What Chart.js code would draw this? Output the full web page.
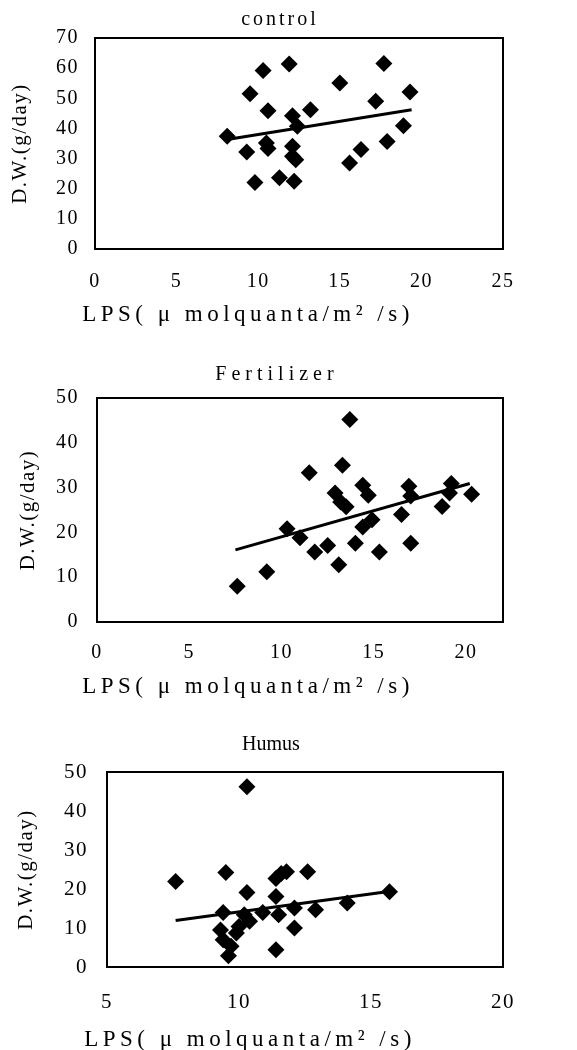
<!DOCTYPE html>
<html>
<head>
<meta charset="utf-8">
<script src="https://cdn.jsdelivr.net/npm/chart.js@4.4.1/dist/chart.umd.min.js"></script>
<style>
  html, body { margin: 0; padding: 0; background: #fff; }
  body { position: relative; width: 577px; height: 1050px; overflow: hidden; }
  .panel { position: absolute; left: 0; width: 577px; }
</style>
</head>
<body>
<div class="panel" style="top:0;height:330px"><canvas id="chart-control"></canvas></div>
<div class="panel" style="top:350px;height:350px"><canvas id="chart-fert"></canvas></div>
<div class="panel" style="top:730px;height:320px"><canvas id="chart-humus"></canvas></div>
<script>
// control
const controlX = [8.1, 9.3, 9.5, 9.8, 10.3, 10.5, 10.6, 10.6, 11.3, 11.9, 12.1, 12.1, 12.1, 12.3, 12.2, 12.4, 13.2, 15.0, 15.6, 16.3, 17.2, 17.7, 17.9, 18.9, 19.3];
const controlY = [37.4, 32.2, 51.5, 22.1, 59.2, 35.2, 33.3, 45.9, 23.6, 61.4, 44.2, 34.1, 30.8, 29.6, 22.5, 40.7, 46.2, 55.1, 28.5, 33.0, 49.0, 61.5, 35.7, 40.9, 52.1];
const controlTrendX = [8.1, 19.4];
const controlTrendY = [36.3, 46.2];
const controlXRange = [0, 25];
const controlXTicks = [0, 5, 10, 15, 20, 25];
const controlYTicks = [0, 10, 20, 30, 40, 50, 60, 70];

// Fertilizer
const fertX = [7.6, 9.2, 10.3, 11.0, 11.5, 11.8, 12.5, 12.9, 13.1, 13.3, 13.2, 13.5, 13.7, 14.0, 14.4, 14.4, 14.7, 14.9, 15.3, 16.5, 16.9, 17.0, 17.0, 18.7, 19.1, 19.2, 20.3];
const fertY = [8.0, 11.2, 20.8, 18.8, 33.3, 15.6, 17.1, 28.8, 12.8, 35.0, 26.8, 25.7, 45.2, 17.6, 21.2, 30.5, 28.3, 22.8, 15.6, 24.0, 30.3, 28.1, 17.6, 25.8, 28.8, 30.9, 28.5];
const fertTrendX = [7.5, 20.2];
const fertTrendY = [16.1, 30.9];
const fertXRange = [0, 22];
const fertXTicks = [0, 5, 10, 15, 20];
const fertYTicks = [0, 10, 20, 30, 40, 50];

// Humus
const humusX = [7.6, 9.5, 9.4, 9.3, 9.4, 9.6, 9.7, 9.9, 10.0, 10.2, 10.3, 10.3, 10.4, 10.9, 11.4, 11.4, 11.6, 11.8, 11.5, 11.4, 12.1, 12.1, 12.6, 12.9, 14.1, 15.7];
const humusY = [21.9, 24.2, 14.0, 9.5, 7.0, 2.9, 5.3, 8.7, 10.4, 13.4, 46.2, 19.1, 11.7, 14.0, 18.1, 22.7, 24.0, 24.4, 13.4, 4.4, 15.1, 10.0, 24.4, 14.7, 16.4, 19.3];
const humusTrendX = [7.6, 15.6];
const humusTrendY = [11.9, 19.3];
const humusXRange = [5, 20];
const humusXTicks = [5, 10, 15, 20];
const humusYTicks = [0, 10, 20, 30, 40, 50];

const SERIF = '"Liberation Serif", "DejaVu Serif", serif';
const X_TITLE = 'LPS( \u03bc molquanta/m\u00b2 /s)';
const Y_TITLE = 'D.W.(g/day)';

function toPoints(xs, ys) {
  return xs.map((x, i) => ({ x, y: ys[i] }));
}

// frame around the plot area + titles with the wide letter spacing of the scan
const panelText = {
  id: 'panelText',
  beforeDraw(chart) {
    chart.ctx.letterSpacing = '1.5px';
  },
  beforeDatasetsDraw(chart) {
    const { ctx, chartArea: a } = chart;
    ctx.save();
    ctx.strokeStyle = '#000';
    ctx.lineWidth = 2;
    ctx.strokeRect(a.left, a.top, a.right - a.left, a.bottom - a.top);
    ctx.restore();
  },
  afterDraw(chart, args, o) {
    const { ctx } = chart;
    ctx.save();
    ctx.fillStyle = '#000';
    ctx.textAlign = 'center';
    ctx.textBaseline = 'middle';
    ctx.letterSpacing = o.titleSpacing;
    ctx.font = o.titleFont;
    ctx.fillText(o.title, o.titleX, o.titleY);
    ctx.letterSpacing = o.axisSpacing;
    ctx.font = o.axisFont;
    ctx.fillText(X_TITLE, o.axisX, o.axisY);
    ctx.restore();
    ctx.letterSpacing = '0px';
  }
};

function makePanel(id, cfg) {
  const tickFont = { family: SERIF, size: cfg.tickSize };
  return new Chart(document.getElementById(id), {
    type: 'scatter',
    data: {
      datasets: [
        {
          data: toPoints(cfg.xs, cfg.ys),
          pointStyle: 'rectRot',
          pointRadius: 8.5,
          pointBackgroundColor: '#000',
          pointBorderColor: '#000',
          pointBorderWidth: 0,
        },
        {
          data: toPoints(cfg.trendX, cfg.trendY),
          showLine: true,
          borderColor: '#000',
          borderWidth: 3,
          pointRadius: 0,
        },
      ],
    },
    options: {
      responsive: true,
      maintainAspectRatio: false,
      animation: false,
      layout: { padding: { top: cfg.top, right: 74, left: 0, bottom: 0 } },
      plugins: {
        legend: { display: false },
        tooltip: { enabled: false },
        panelText: cfg.text,
      },
      scales: {
        x: {
          type: 'linear',
          min: cfg.xRange[0],
          max: cfg.xRange[1],
          afterBuildTicks: (s) => { s.ticks = cfg.xTicks.map((v) => ({ value: v })); },
          afterFit: (s) => { s.height = cfg.xHeight; },
          grid: { display: false, drawTicks: false },
          border: { display: false },
          ticks: { color: '#000', font: tickFont, padding: cfg.xPad, maxRotation: 0 },
        },
        y: {
          type: 'linear',
          min: cfg.yTicks[0],
          max: cfg.yTicks[cfg.yTicks.length - 1],
          afterBuildTicks: (s) => { s.ticks = cfg.yTicks.map((v) => ({ value: v })); },
          afterFit: (s) => { s.width = cfg.yWidth; },
          grid: { display: false, drawTicks: false },
          border: { display: false },
          ticks: { color: '#000', font: tickFont, padding: cfg.yPad },
          title: {
            display: true,
            text: Y_TITLE,
            color: '#000',
            font: { family: SERIF, size: 21 },
            padding: { top: cfg.yTitlePad, bottom: 0 },
          },
        },
      },
    },
    plugins: [panelText],
  });
}

makePanel('chart-control', {
  xs: controlX, ys: controlY, trendX: controlTrendX, trendY: controlTrendY,
  xRange: controlXRange, xTicks: controlXTicks, yTicks: controlYTicks,
  top: 38, yWidth: 95, xHeight: 81, yPad: 16, xPad: 21, yTitlePad: 8, tickSize: 20,
  text: {
    title: 'control', titleX: 280, titleY: 20, titleFont: '20px ' + SERIF, titleSpacing: '3px',
    axisX: 248, axisY: 315, axisFont: '23px ' + SERIF, axisSpacing: '4.5px',
  },
});

makePanel('chart-fert', {
  xs: fertX, ys: fertY, trendX: fertTrendX, trendY: fertTrendY,
  xRange: fertXRange, xTicks: fertXTicks, yTicks: fertYTicks,
  top: 48, yWidth: 97, xHeight: 78, yPad: 18, xPad: 19, yTitlePad: 16, tickSize: 20,
  text: {
    title: 'Fertilizer', titleX: 277, titleY: 25, titleFont: '20px ' + SERIF, titleSpacing: '5px',
    axisX: 248, axisY: 337, axisFont: '23px ' + SERIF, axisSpacing: '4.5px',
  },
});

makePanel('chart-humus', {
  xs: humusX, ys: humusY, trendX: humusTrendX, trendY: humusTrendY,
  xRange: humusXRange, xTicks: humusXTicks, yTicks: humusYTicks,
  top: 42, yWidth: 107, xHeight: 83, yPad: 19, xPad: 23, yTitlePad: 14, tickSize: 21,
  text: {
    title: 'Humus', titleX: 271, titleY: 15, titleFont: '20px ' + SERIF, titleSpacing: '0px',
    axisX: 250, axisY: 310, axisFont: '23px ' + SERIF, axisSpacing: '4.5px',
  },
});
</script>
</body>
</html>
